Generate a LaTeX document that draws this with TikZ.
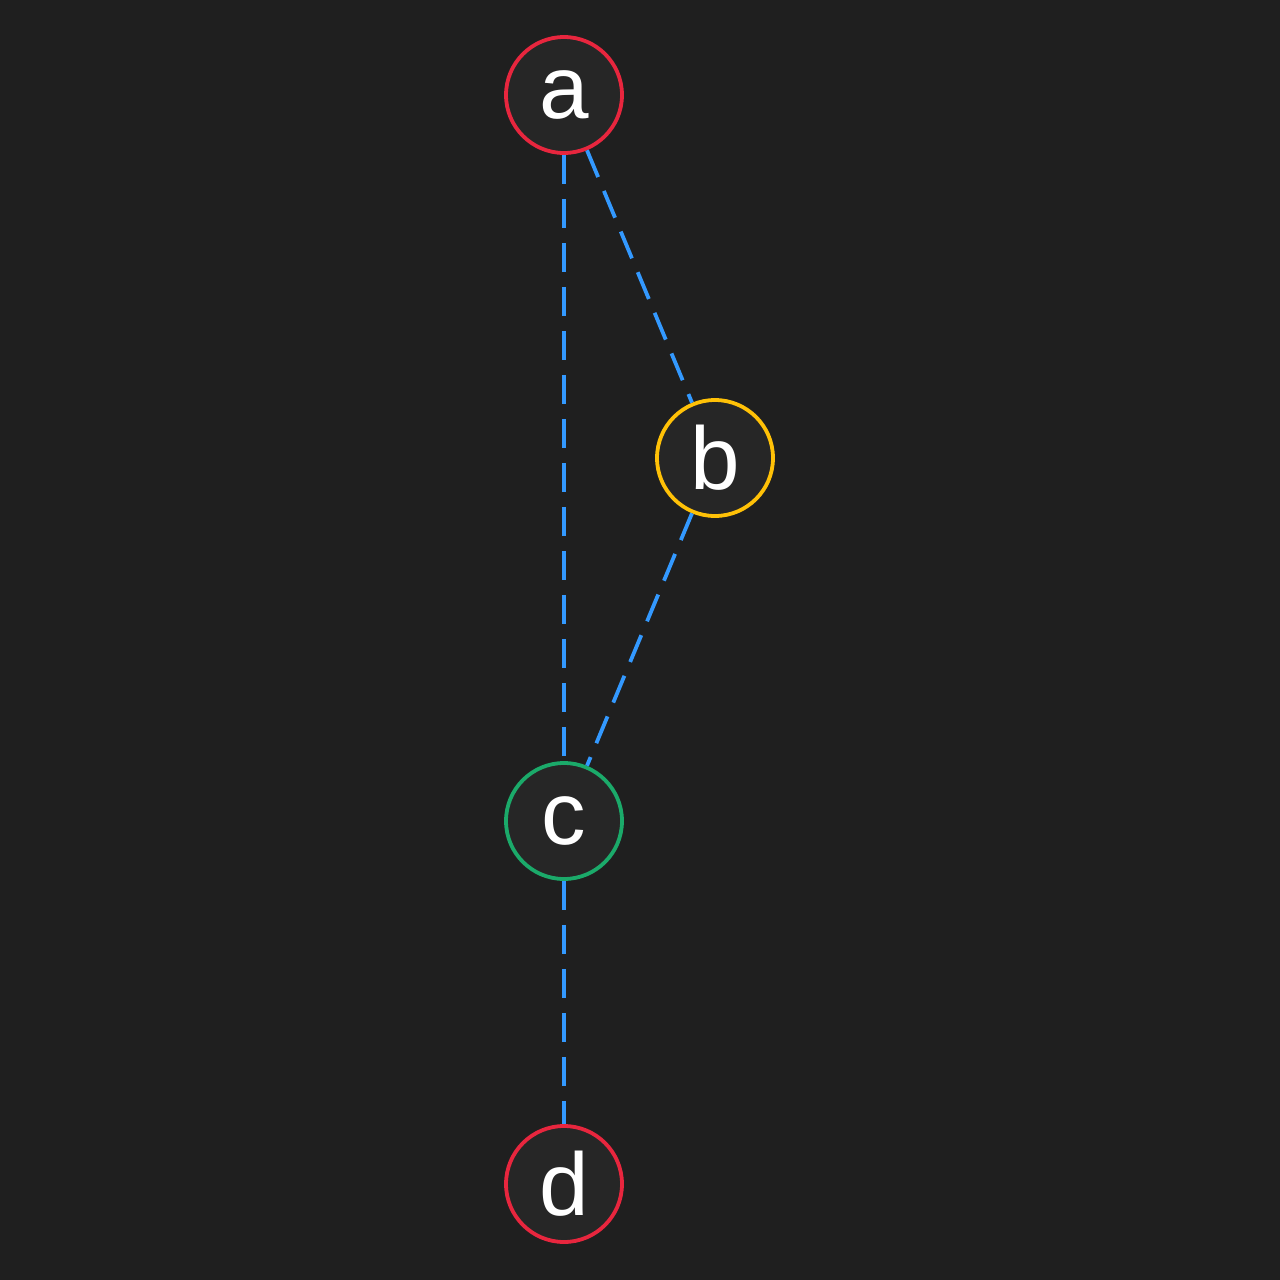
\documentclass[tikz,border=0pt]{standalone}
\usepackage{fontspec}
\setmainfont{Liberation Sans}
\definecolor{bg}{HTML}{1F1F1F}
\definecolor{nodefill}{HTML}{262626}
\definecolor{nred}{HTML}{E8263E}
\definecolor{nyellow}{HTML}{FFC107}
\definecolor{ngreen}{HTML}{1BAA6A}
\definecolor{eblue}{HTML}{3399FF}
\begin{document}
\begin{tikzpicture}[x=1pt,y=-1pt,
  vert/.style={circle,draw,line width=3.8pt,fill=nodefill,minimum size=116pt,inner sep=0pt,
    text=white,font=\fontsize{89}{89}\selectfont},
  edge/.style={draw=eblue,line width=3.8pt,dash pattern=on 29pt off 15pt}]
\fill[bg] (0,0) rectangle (1280,1280);
\useasboundingbox (0,0) rectangle (1280,1280);
\node[vert,draw=nred] (a) at (564,95) {a};
\node[vert,draw=nyellow] (b) at (715,458) {b};
\node[vert,draw=ngreen] (c) at (564,821) {c};
\node[vert,draw=nred] (d) at (564,1184) {d};
\path[edge] (a) -- (c);
\path[edge] (a) -- (b);
\path[edge] (b) -- (c);
\path[edge] (c) -- (d);
\end{tikzpicture}
\end{document}
